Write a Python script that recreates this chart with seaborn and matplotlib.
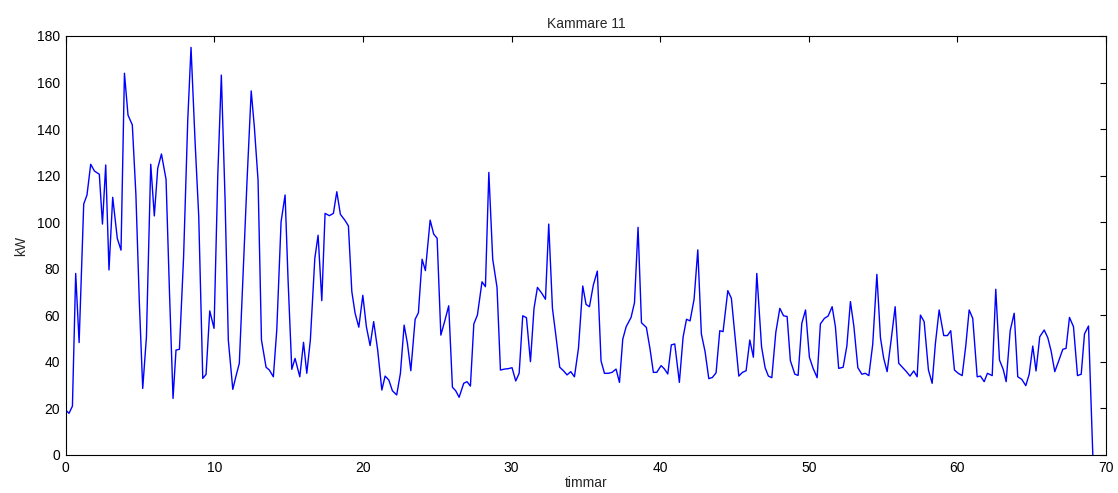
import matplotlib
matplotlib.use("Agg")
import matplotlib.pyplot as plt
import seaborn as sns
import pandas as pd

# time (hours) and power (kW)
hours = [
    0.0, 0.22, 0.45, 0.67, 0.9, 1.21, 1.43, 1.68, 1.93, 2.26, 2.47, 2.69, 2.91, 3.16,
    3.47, 3.72, 3.95, 4.19, 4.48, 4.72, 4.95, 5.18, 5.43, 5.72, 5.96, 6.19, 6.44, 6.75,
    6.98, 7.22, 7.42, 7.65, 7.93, 8.21, 8.43, 8.7, 8.95, 9.22, 9.44, 9.69, 9.98, 10.23,
    10.47, 10.72, 10.94, 11.24, 11.46, 11.68, 11.95, 12.2, 12.48, 12.69, 12.94, 13.17,
    13.48, 13.7, 13.97, 14.2, 14.49, 14.76, 14.96, 15.21, 15.43, 15.75, 16.0, 16.22,
    16.46, 16.76, 16.98, 17.23, 17.45, 17.74, 18.01, 18.24, 18.48, 18.8, 19.02, 19.25,
    19.47, 19.72, 19.99, 20.23, 20.48, 20.72, 20.99, 21.27, 21.49, 21.74, 21.98, 22.27,
    22.52, 22.77, 22.99, 23.22, 23.51, 23.73, 23.98, 24.2, 24.52, 24.76, 24.99, 25.24,
    25.5, 25.77, 26.02, 26.24, 26.47, 26.78, 27.0, 27.23, 27.46, 27.7, 28.01, 28.24,
    28.47, 28.73, 29.02, 29.25, 29.52, 29.79, 30.03, 30.28, 30.51, 30.75, 31.0, 31.27,
    31.51, 31.74, 32.03, 32.28, 32.5, 32.75, 32.99, 33.24, 33.49, 33.73, 33.98, 34.23,
    34.5, 34.79, 35.01, 35.24, 35.5, 35.77, 36.02, 36.25, 36.52, 36.76, 37.03, 37.26,
    37.48, 37.71, 38.04, 38.27, 38.51, 38.74, 39.07, 39.32, 39.54, 39.77, 40.06, 40.28,
    40.51, 40.75, 40.98, 41.29, 41.54, 41.77, 42.01, 42.28, 42.53, 42.77, 43.02, 43.27,
    43.51, 43.76, 44.01, 44.23, 44.55, 44.79, 45.04, 45.29, 45.54, 45.78, 46.03, 46.27,
    46.5, 46.82, 47.06, 47.28, 47.51, 47.78, 48.05, 48.3, 48.54, 48.76, 49.06, 49.28,
    49.53, 49.78, 50.04, 50.29, 50.56, 50.78, 51.05, 51.3, 51.57, 51.79, 52.01, 52.31,
    52.56, 52.8, 53.03, 53.3, 53.57, 53.8, 54.04, 54.3, 54.58, 54.82, 55.04, 55.27,
    55.54, 55.81, 56.05, 56.3, 56.57, 56.81, 57.06, 57.29, 57.51, 57.76, 58.05, 58.3,
    58.52, 58.77, 59.08, 59.33, 59.55, 59.8, 60.05, 60.32, 60.56, 60.79, 61.03, 61.33,
    61.55, 61.8, 62.02, 62.34, 62.58, 62.83, 63.08, 63.28, 63.55, 63.82, 64.06, 64.33,
    64.6, 64.83, 65.07, 65.29, 65.54, 65.84, 66.08, 66.3, 66.55, 66.82, 67.09, 67.31,
    67.54, 67.81, 68.08, 68.33, 68.55, 68.82, 69.11,
]
kw = [
    19.3, 17.9, 21.0, 78.0, 48.3, 107.8, 111.7, 124.9, 122.0, 120.6, 99.2, 124.6, 79.5, 110.7,
    93.0, 88.0, 164.0, 146.0, 141.8, 112.0, 66.0, 28.6, 50.8, 124.9, 102.7, 123.2, 129.3, 118.4,
    70.0, 24.3, 45.1, 45.4, 85.0, 143.9, 175.1, 135.0, 102.4, 32.9, 34.6, 61.9, 54.4, 120.0,
    163.2, 110.0, 49.4, 28.2, 34.0, 39.4, 80.0, 118.0, 156.4, 141.0, 118.1, 49.4,
    37.7, 36.5, 33.6, 53.7, 100.2, 111.7, 75.2, 36.8, 41.5, 33.6, 48.4, 35.1,
    49.4, 84.5, 94.4, 66.3, 103.8, 102.8, 103.8, 113.1, 103.4, 100.7, 98.4, 70.2,
    60.9, 54.9, 68.6, 55.1, 47.0, 57.3, 45.1, 27.9, 33.9, 32.2, 27.6, 25.8,
    35.1, 55.8, 48.0, 36.2, 58.3, 61.1, 84.1, 79.2, 100.9, 94.9, 93.1, 51.5,
    57.5, 64.1, 29.1, 27.6, 24.8, 30.8, 31.5, 29.6, 56.3, 60.1, 74.4, 72.3,
    121.4, 84.2, 72.0, 36.5, 36.9, 37.1, 37.5, 31.8, 35.1, 59.8, 59.0, 40.1,
    63.0, 72.0, 69.5, 66.9, 99.2, 63.0, 50.8, 37.7, 36.2, 34.4, 35.8, 33.6,
    45.8, 72.6, 64.7, 63.7, 73.0, 79.0, 40.4, 35.1, 35.1, 35.5, 36.9, 31.2,
    49.7, 55.1, 59.1, 65.4, 97.8, 56.8, 54.8, 45.4, 35.5, 35.5, 38.4, 37.0,
    34.8, 47.3, 47.7, 31.2, 50.6, 58.3, 57.6, 66.9, 88.1, 52.0, 44.4, 32.8,
    33.3, 35.3, 53.4, 53.0, 70.6, 67.3, 50.8, 33.9, 35.5, 36.2, 49.4, 42.0,
    78.0, 46.5, 37.5, 33.9, 33.2, 52.7, 63.0, 59.8, 59.5, 40.5, 34.7, 34.2,
    56.6, 62.3, 42.0, 37.2, 33.2, 56.3, 58.7, 59.7, 63.7, 55.1, 37.2, 37.7,
    46.8, 65.9, 55.4, 37.5, 34.7, 35.1, 34.1, 47.5, 77.6, 50.4, 41.5, 35.8,
    49.4, 63.7, 39.4, 37.7, 35.8, 33.9, 36.1, 33.6, 60.1, 57.3, 36.5, 30.8,
    48.0, 62.3, 51.3, 51.3, 53.4, 36.5, 35.1, 34.1, 46.8, 62.3, 58.7, 33.6,
    33.9, 31.5, 35.1, 34.1, 71.2, 40.8, 36.8, 31.5, 53.4, 60.9, 33.6, 32.5,
    29.8, 34.7, 46.8, 36.1, 50.8, 53.7, 50.4, 44.8, 35.8, 40.5, 45.4, 45.8,
    59.1, 55.1, 34.1, 34.7, 52.0, 55.4, 0.0,
]

df = pd.DataFrame({"timmar": hours, "kW": kw})

sns.set_style("white")
plt.rcParams["font.family"] = ["Liberation Sans", "DejaVu Sans"]
plt.rcParams["font.size"] = 10

fig = plt.figure(figsize=(11.18, 4.93), dpi=100)
ax = fig.add_axes([0.0588, 0.0771, 0.9305, 0.8499])

sns.lineplot(data=df, x="timmar", y="kW", color="#0000ff", linewidth=1.0, ax=ax)

ax.set_xlim(0, 70)
ax.set_ylim(0, 180)
ax.set_xticks(range(0, 71, 10))
ax.set_yticks(range(0, 181, 20))
ax.tick_params(direction="in", length=4, width=0.8, colors="black",
               top=True, right=True, labelsize=10, pad=4)
for s in ax.spines.values():
    s.set_visible(True)
    s.set_color("black")
    s.set_linewidth(0.8)

ax.set_title("Kammare 11", fontsize=10, pad=6)
ax.set_xlabel("timmar", fontsize=10, labelpad=1)
ax.set_ylabel("kW", fontsize=10, labelpad=6)

fig.savefig("out.png", dpi=100)
